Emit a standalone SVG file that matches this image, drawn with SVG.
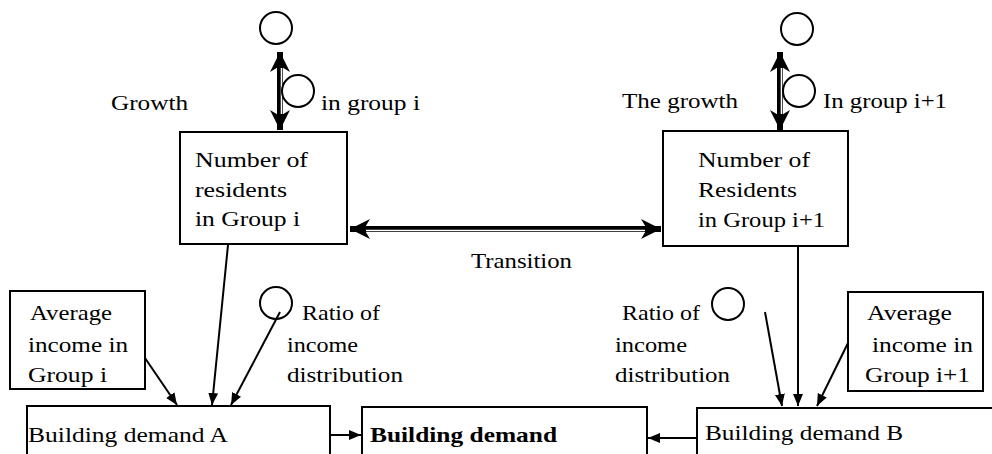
<svg xmlns="http://www.w3.org/2000/svg" width="992" height="454" viewBox="0 0 992 454">
<defs>
<style>
text{font-family:"Liberation Serif","Times New Roman",serif;font-size:22px;fill:#000}
.b{font-weight:bold}
.box{fill:#fff;stroke:#000;stroke-width:2}
.cir{fill:none;stroke:#000;stroke-width:2}
.ln{stroke:#000;stroke-width:2;fill:none}
.dbl{stroke:#000;stroke-width:6;fill:none}
.inner{stroke:#fff;stroke-width:1.6;fill:none}
</style>
<marker id="ah" markerUnits="userSpaceOnUse" markerWidth="14" markerHeight="12" refX="12" refY="5" orient="auto">
<path d="M0,0 L12,5 L0,10 z" fill="#000"/>
</marker>
<marker id="bh" markerUnits="userSpaceOnUse" markerWidth="24" markerHeight="22" refX="20" refY="10" orient="auto-start-reverse">
<path d="M0,0 L20,10 L0,20 L6,10 z" fill="#000"/>
</marker>
</defs>

<g id="connectors">
<line class="dbl" x1="280" y1="52" x2="280" y2="130" marker-start="url(#bh)" marker-end="url(#bh)"/>
<line class="inner" x1="281.5" y1="68" x2="281.5" y2="114"/>
<line class="dbl" x1="780" y1="52" x2="780" y2="130" marker-start="url(#bh)" marker-end="url(#bh)"/>
<line class="inner" x1="781.5" y1="68" x2="781.5" y2="114"/>
<line class="dbl" x1="350" y1="229" x2="661" y2="229" marker-start="url(#bh)" marker-end="url(#bh)"/>
<line class="inner" x1="366" y1="230.5" x2="645" y2="230.5"/>
<line class="ln" x1="330" y1="435" x2="361" y2="435" marker-end="url(#ah)"/>
<line class="ln" x1="697" y1="438" x2="648" y2="438" marker-end="url(#ah)"/>
<line class="ln" x1="145" y1="358" x2="177" y2="405" marker-end="url(#ah)"/>
<line class="ln" x1="228" y1="245" x2="212" y2="405" marker-end="url(#ah)"/>
<line class="ln" x1="280" y1="312" x2="231" y2="405" marker-end="url(#ah)"/>
<line class="ln" x1="765" y1="312" x2="782" y2="406" marker-end="url(#ah)"/>
<line class="ln" x1="798" y1="246" x2="798" y2="406" marker-end="url(#ah)"/>
<line class="ln" x1="848" y1="343" x2="817" y2="406" marker-end="url(#ah)"/>
</g>

<g id="src-left"><circle class="cir" cx="276" cy="28" r="16"/></g>
<g id="growth-left">
<circle class="cir" cx="298" cy="91" r="16"/>
<text x="111" y="110" textLength="77" lengthAdjust="spacingAndGlyphs">Growth</text>
<text x="321" y="110" textLength="99" lengthAdjust="spacingAndGlyphs">in group i</text>
</g>
<g id="src-right"><circle class="cir" cx="797" cy="29" r="16"/></g>
<g id="growth-right">
<circle class="cir" cx="799" cy="91" r="16"/>
<text x="622" y="108" textLength="116" lengthAdjust="spacingAndGlyphs">The growth</text>
<text x="823" y="108" textLength="124" lengthAdjust="spacingAndGlyphs">In group i+1</text>
</g>

<g id="residents-i">
<rect class="box" x="180" y="132" width="167" height="112"/>
<text x="195" y="167" textLength="113" lengthAdjust="spacingAndGlyphs">Number of</text>
<text x="195" y="197" textLength="92" lengthAdjust="spacingAndGlyphs">residents</text>
<text x="195" y="226" textLength="105" lengthAdjust="spacingAndGlyphs">in Group i</text>
</g>
<g id="residents-i1">
<rect class="box" x="663" y="131" width="185" height="115"/>
<text x="698" y="167" textLength="112" lengthAdjust="spacingAndGlyphs">Number of</text>
<text x="698" y="197" textLength="99" lengthAdjust="spacingAndGlyphs">Residents</text>
<text x="698" y="227" textLength="127" lengthAdjust="spacingAndGlyphs">in Group i+1</text>
</g>
<g id="transition">
<text x="471" y="268" textLength="101" lengthAdjust="spacingAndGlyphs">Transition</text>
</g>

<g id="avg-i">
<rect class="box" x="10" y="291" width="135" height="98"/>
<text x="30" y="320" textLength="82" lengthAdjust="spacingAndGlyphs">Average</text>
<text x="28" y="352" textLength="100" lengthAdjust="spacingAndGlyphs">income in</text>
<text x="28" y="382" textLength="79" lengthAdjust="spacingAndGlyphs">Group i</text>
</g>
<g id="ratio-left">
<circle class="cir" cx="276" cy="303" r="16"/>
<text x="302" y="320" textLength="78" lengthAdjust="spacingAndGlyphs">Ratio of</text>
<text x="287" y="352" textLength="71" lengthAdjust="spacingAndGlyphs">income</text>
<text x="287" y="382" textLength="116" lengthAdjust="spacingAndGlyphs">distribution</text>
</g>
<g id="ratio-right">
<circle class="cir" cx="728" cy="304" r="16"/>
<text x="622" y="320" textLength="78" lengthAdjust="spacingAndGlyphs">Ratio of</text>
<text x="615" y="352" textLength="72" lengthAdjust="spacingAndGlyphs">income</text>
<text x="615" y="382" textLength="115" lengthAdjust="spacingAndGlyphs">distribution</text>
</g>
<g id="avg-i1">
<rect class="box" x="848" y="292" width="135" height="99"/>
<text x="867" y="320" textLength="85" lengthAdjust="spacingAndGlyphs">Average</text>
<text x="872" y="352" textLength="101" lengthAdjust="spacingAndGlyphs">income in</text>
<text x="865" y="382" textLength="105" lengthAdjust="spacingAndGlyphs">Group i+1</text>
</g>

<g id="demand-a">
<rect class="box" x="27" y="406" width="303" height="54"/>
<text x="28" y="442" textLength="200" lengthAdjust="spacingAndGlyphs">Building demand A</text>
</g>
<g id="demand">
<rect class="box" x="362" y="407" width="285" height="54"/>
<text class="b" x="370" y="442" textLength="187" lengthAdjust="spacingAndGlyphs">Building demand</text>
</g>
<g id="demand-b">
<rect class="box" x="697" y="408" width="300" height="54"/>
<text x="705" y="440" textLength="198" lengthAdjust="spacingAndGlyphs">Building demand B</text>
</g>
</svg>
